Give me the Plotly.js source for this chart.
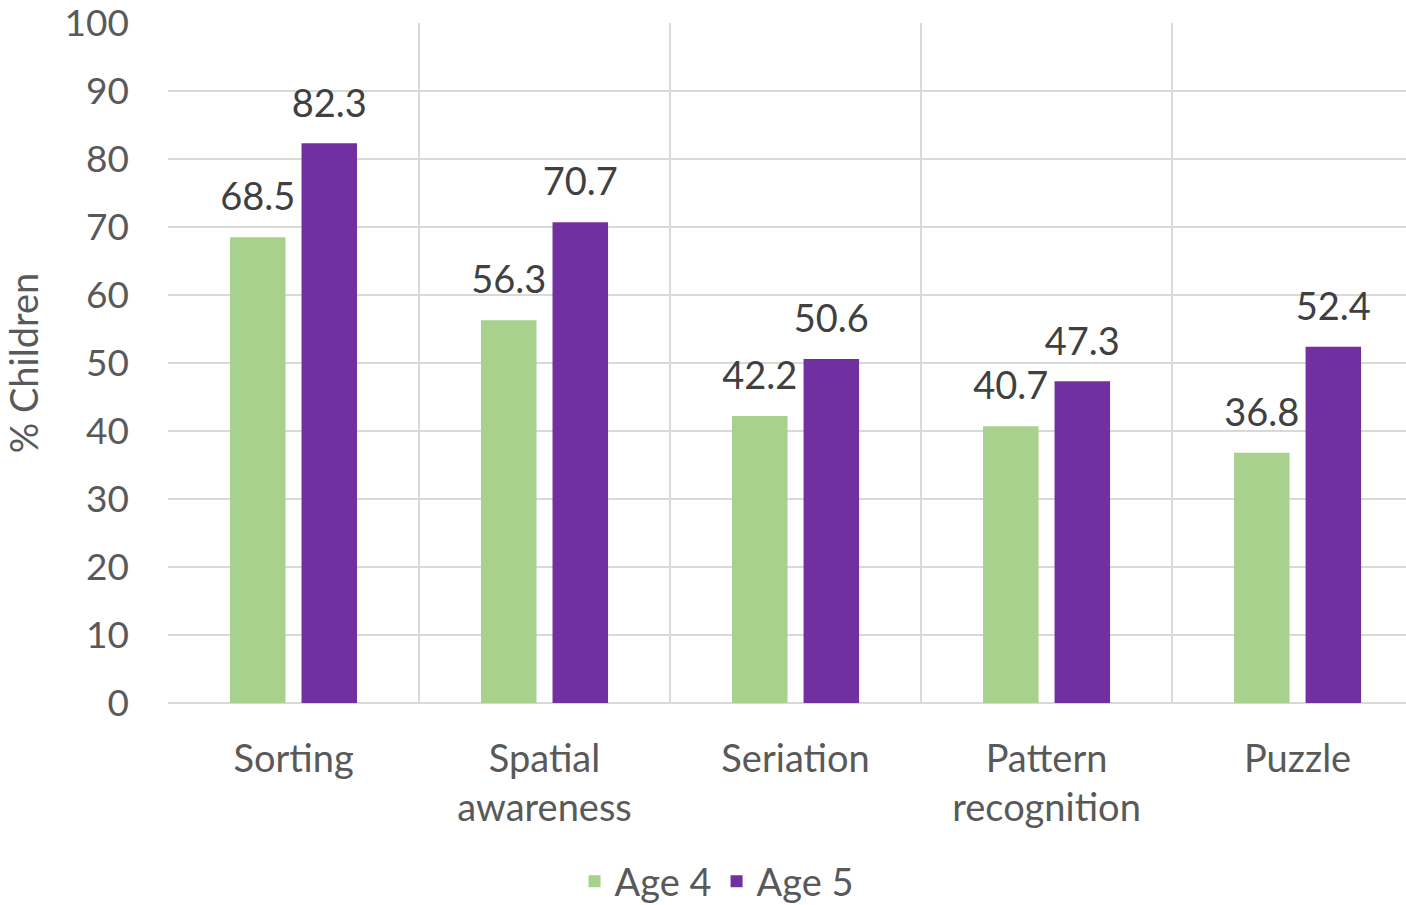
<!DOCTYPE html>
<html>
<head>
<meta charset="utf-8">
<script src="https://cdn.plot.ly/plotly-3.0.1.min.js"></script>
<style>html,body{margin:0;padding:0;background:#fff;}#chart{width:1406px;height:905px;}</style>
</head>
<body>
<div id="chart"></div>
<script>
const categories = ["Sorting", "Spatial<br>awareness", "Seriation", "Pattern<br>recognition", "Puzzle"];
const seriesNames = ["Age 4", "Age 5"];
const age4 = [68.5, 56.3, 42.2, 40.7, 36.8];
const age5 = [82.3, 70.7, 50.6, 47.3, 52.4];
const yTicks = [0, 10, 20, 30, 40, 50, 60, 70, 80, 90, 100];

const green = "#a9d18e";
const purple = "#7030a0";
const FONT = "Lato, 'Open Sans', sans-serif";

function barTrace(name, vals, color, grp) {
  return {
    type: "bar", name: name, x: categories, y: vals,
    marker: {color: color}, offsetgroup: grp, alignmentgroup: "a",
    hoverinfo: "skip"
  };
}
function labelTrace(vals, grp) {
  return {
    type: "scatter", mode: "markers+text", x: categories, y: vals,
    text: vals.map(v => v.toFixed(1)), textposition: "top center",
    textfont: {family: FONT, size: 38, color: "#404040"},
    marker: {size: 26, opacity: 0}, offsetgroup: grp, alignmentgroup: "a",
    showlegend: false, hoverinfo: "skip", cliponaxis: false
  };
}

const xr = [-0.5, 4.432];
const data = [
  barTrace(seriesNames[0], age4, green, "1"),
  barTrace(seriesNames[1], age5, purple, "2"),
  labelTrace(age4, "1"),
  labelTrace(age5, "2"),
  {type: "scatter", x: [], y: [], xaxis: "x2", showlegend: false, hoverinfo: "skip"}
];

const layout = {
  width: 1406, height: 905,
  margin: {l: 168, r: 0, t: 23, b: 202},
  paper_bgcolor: "#fff", plot_bgcolor: "#fff",
  font: {family: FONT, color: "#595959", size: 38},
  barmode: "group", bargap: 0.43, bargroupgap: 0.224,
  scattermode: "group", scattergap: 0.43,
  showlegend: true,
  legend: {
    orientation: "h", xref: "container", yref: "container",
    x: 0.51, xanchor: "center", y: 0.026, yanchor: "middle",
    font: {family: FONT, size: 38, color: "#595959"},
    itemwidth: 30, traceorder: "normal"
  },
  xaxis: {
    type: "category", range: xr, showgrid: false, zeroline: false,
    showline: false, ticks: "", tickfont: {family: FONT, size: 38, color: "#595959"},
    ticklabelstandoff: 30, fixedrange: true
  },
  xaxis2: {
    type: "linear", overlaying: "x", range: xr, tick0: -0.5, dtick: 1,
    showgrid: true, gridcolor: "#d9d9d9", gridwidth: 2, showticklabels: false,
    ticks: "", zeroline: false, showline: false
  },
  yaxis: {
    range: [0, 100], tickvals: yTicks, ticktext: yTicks.map(String),
    showgrid: true, gridcolor: "#d9d9d9", gridwidth: 2,
    zeroline: true, zerolinecolor: "#d9d9d9", zerolinewidth: 2,
    ticks: "", ticklabelstandoff: 38, ticklabeloverflow: "allow",
    tickfont: {family: FONT, size: 37, color: "#595959"},
    title: {text: "% Children", font: {family: FONT, size: 38, color: "#595959"}, standoff: 17}
  }
};

Plotly.newPlot("chart", data, layout, {displayModeBar: false, staticPlot: true});
</script>
</body>
</html>
